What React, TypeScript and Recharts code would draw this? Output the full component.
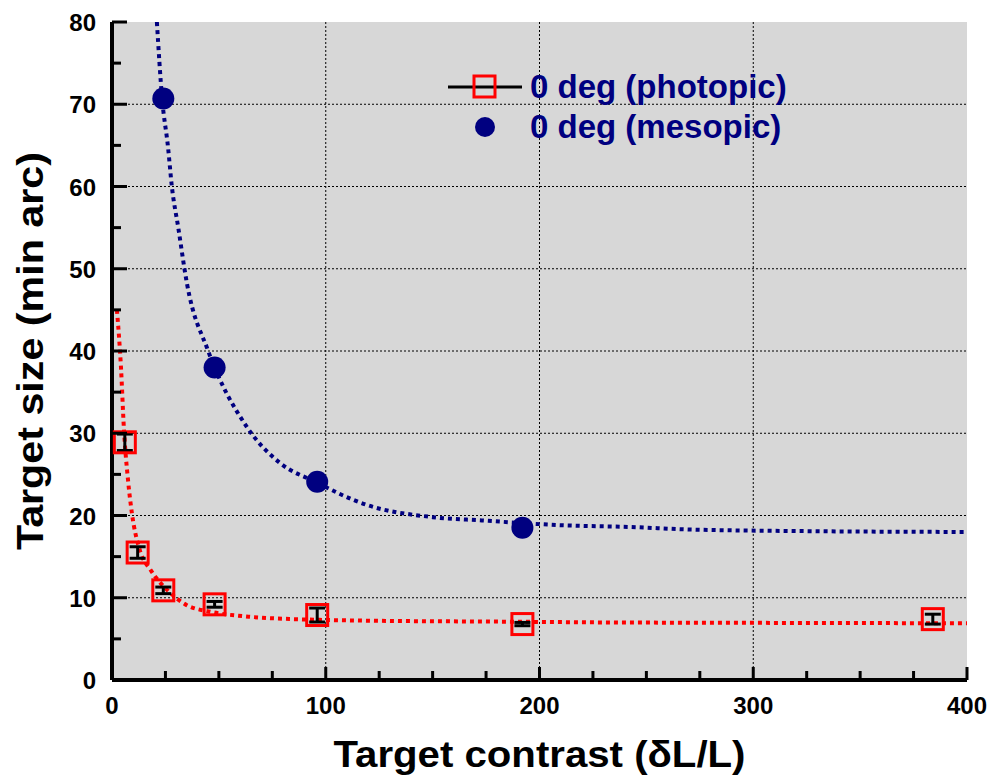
import React from "react";
import {
  ComposedChart,
  Line,
  Scatter,
  XAxis,
  YAxis,
  CartesianGrid,
  ErrorBar,
  Legend,
} from "recharts";

// measured points, photopic (red squares with error bars)
const photopicX = [6, 12, 24, 48, 96, 192, 384];
const photopicY = [28.9, 15.5, 10.9, 9.2, 7.9, 6.8, 7.4];
const photopicErr = [1.0, 0.7, 0.4, 0.35, 0.85, 0.2, 0.6];

// measured points, mesopic (navy dots)
const mesopicX = [24, 48, 96, 192];
const mesopicY = [70.7, 38.0, 24.1, 18.5];

// dotted fit curves
const photopicFitX = [2.3, 4.2, 5.6, 7.5, 9.3, 13, 18, 26, 35, 46, 64, 85, 100, 124, 180, 231, 300, 400];
const photopicFitY = [45, 38, 30.4, 24.3, 20.3, 15.8, 13.4, 10.9, 9.1, 8.3, 7.7, 7.4, 7.3, 7.2, 7.1, 7.0, 6.95, 6.9];
const mesopicFitX = [21, 23.4, 26.2, 28, 31, 35, 45, 63, 78.5, 95, 119, 150, 173, 212, 243, 270, 325, 400];
const mesopicFitY = [80, 70.8, 64.8, 60, 55, 48.3, 40, 30.8, 26.4, 24.1, 21.3, 19.8, 19.4, 18.8, 18.6, 18.3, 18.1, 18.0];

const xTicks = [0, 25, 50, 75, 100, 125, 150, 175, 200, 225, 250, 275, 300, 325, 350, 375, 400];
const yTicks = [0, 5, 10, 15, 20, 25, 30, 35, 40, 45, 50, 55, 60, 65, 70, 75, 80];
const xGrid = [100, 200, 300];
const yGrid = [10, 20, 30, 40, 50, 60, 70];

const RED = "#ff0000";
const NAVY = "#000080";
const FONT = '"Liberation Sans", Arial, sans-serif';

const photopic = photopicX.map((x, i) => ({ x, y: photopicY[i], err: photopicErr[i] }));
const mesopic = mesopicX.map((x, i) => ({ x, y: mesopicY[i] }));
const photopicFit = photopicFitX.map((x, i) => ({ x, y: photopicFitY[i] }));
const mesopicFit = mesopicFitX.map((x, i) => ({ x, y: mesopicFitY[i] }));

// ticks point inwards, labels only on the major ones
const XTick = (props: any) => {
  const x = Number(props.x);
  const y = Number(props.y);
  const major = props.payload.value % 100 === 0;
  const len = major ? 13 : 9;
  return (
    <g>
      <rect x={x - 1.5} y={y - len} width={3} height={len} fill="#000" stroke="none" />
      {major && (
        <text x={x} y={y + 34} textAnchor="middle" fontFamily={FONT} fontWeight="bold" fontSize={24} fill="#000" stroke="none">
          {props.payload.value}
        </text>
      )}
    </g>
  );
};

const YTick = (props: any) => {
  const x = Number(props.x);
  const y = Number(props.y);
  const major = props.payload.value % 10 === 0;
  const len = major ? 15 : 9;
  return (
    <g>
      <rect x={x} y={y - 1.5} width={len} height={3} fill="#000" stroke="none" />
      {major && (
        <text x={x - 16} y={y + 9} textAnchor="end" fontFamily={FONT} fontWeight="bold" fontSize={24} fill="#000" stroke="none">
          {props.payload.value}
        </text>
      )}
    </g>
  );
};

const Square = (props: any) => {
  const { cx, cy } = props;
  return <rect x={cx - 10.5} y={cy - 10.5} width={21} height={21} fill="none" stroke={RED} strokeWidth={3} />;
};

const Dot = (props: any) => {
  const { cx, cy } = props;
  return <circle cx={cx} cy={cy} r={11} fill={NAVY} />;
};

const LegendBox = () => (
  <div style={{ fontFamily: FONT, fontWeight: "bold", fontSize: 33, color: NAVY, lineHeight: "40px" }}>
    <div style={{ display: "flex", alignItems: "center" }}>
      <svg width={80} height={40}>
        <line x1={3} y1={20} x2={77} y2={20} stroke="#000" strokeWidth={3} />
        <rect x={29} y={9} width={21} height={21} fill="none" stroke={RED} strokeWidth={3} />
      </svg>
      <span style={{ marginLeft: 5 }}>0 deg (photopic)</span>
    </div>
    <div style={{ display: "flex", alignItems: "center" }}>
      <svg width={80} height={40}>
        <circle cx={40} cy={20} r={10} fill={NAVY} />
      </svg>
      <span style={{ marginLeft: 5 }}>0 deg (mesopic)</span>
    </div>
  </div>
);

export default function App() {
  return (
    <div style={{ position: "absolute", left: 0, top: 0, width: 989, height: 776, background: "#fff" }}>
      {/* plot background sits behind the transparent svg */}
      <div style={{ position: "absolute", left: 112, top: 22, width: 855, height: 658, background: "#d7d7d7" }} />
      <div style={{ position: "absolute", left: 0, top: 0 }}>
        <ComposedChart width={989} height={776} margin={{ top: 22, right: 22, left: 0, bottom: 0 }}>
          <CartesianGrid
            stroke="#000"
            strokeDasharray="2 2"
            horizontalValues={yGrid}
            verticalValues={xGrid}
          />
          <XAxis
            type="number"
            dataKey="x"
            domain={[0, 400]}
            ticks={xTicks}
            interval={0}
            height={96}
            tickSize={0}
            tickMargin={0}
            tickLine={false}
            tick={<XTick />}
            axisLine={{ stroke: "#000", strokeWidth: 4 }}
            label={{
              content: () => (
                <text
                  x={539.5}
                  y={767}
                  textAnchor="middle"
                  fontFamily={FONT}
                  fontWeight="bold"
                  fontSize={37}
                  textLength={412}
                  lengthAdjust="spacingAndGlyphs"
                  fill="#000"
                >
                  Target contrast (δL/L)
                </text>
              ),
            }}
          />
          <XAxis xAxisId="top" orientation="top" type="number" domain={[0, 400]} height={0} tick={false} tickLine={false} axisLine={{ stroke: "#000", strokeWidth: 3 }} />
          <YAxis
            type="number"
            domain={[0, 80]}
            ticks={yTicks}
            interval={0}
            width={112}
            tickSize={0}
            tickMargin={0}
            tickLine={false}
            tick={<YTick />}
            axisLine={{ stroke: "#000", strokeWidth: 4 }}
            allowDataOverflow
            label={{
              content: () => (
                <text
                  x={43}
                  y={351}
                  transform="rotate(-90 43 351)"
                  textAnchor="middle"
                  fontFamily={FONT}
                  fontWeight="bold"
                  fontSize={37}
                  textLength={398}
                  lengthAdjust="spacingAndGlyphs"
                  fill="#000"
                >
                  Target size (min arc)
                </text>
              ),
            }}
          />
          <YAxis yAxisId="right" orientation="right" type="number" domain={[0, 80]} width={0} tick={false} tickLine={false} axisLine={{ stroke: "#000", strokeWidth: 4 }} />
          <Legend
            layout="horizontal"
            verticalAlign="middle"
            align="center"
            wrapperStyle={{ left: 445, top: 67, width: "auto" }}
            content={<LegendBox />}
          />
          <Line
            data={mesopicFit}
            dataKey="y"
            type="monotone"
            stroke={NAVY}
            strokeWidth={4}
            strokeDasharray="4 4"
            dot={false}
            activeDot={false}
            legendType="none"
            isAnimationActive={false}
          />
          <Line
            data={photopicFit}
            dataKey="y"
            type="monotone"
            stroke={RED}
            strokeWidth={4}
            strokeDasharray="4 4"
            dot={false}
            activeDot={false}
            legendType="none"
            isAnimationActive={false}
          />
          <Scatter data={mesopic} dataKey="y" shape={<Dot />} isAnimationActive={false} />
          <Scatter data={photopic} dataKey="y" shape={<Square />} isAnimationActive={false}>
            <ErrorBar dataKey="err" direction="y" width={8} stroke="#000" strokeWidth={3} />
          </Scatter>
        </ComposedChart>
      </div>
    </div>
  );
}
